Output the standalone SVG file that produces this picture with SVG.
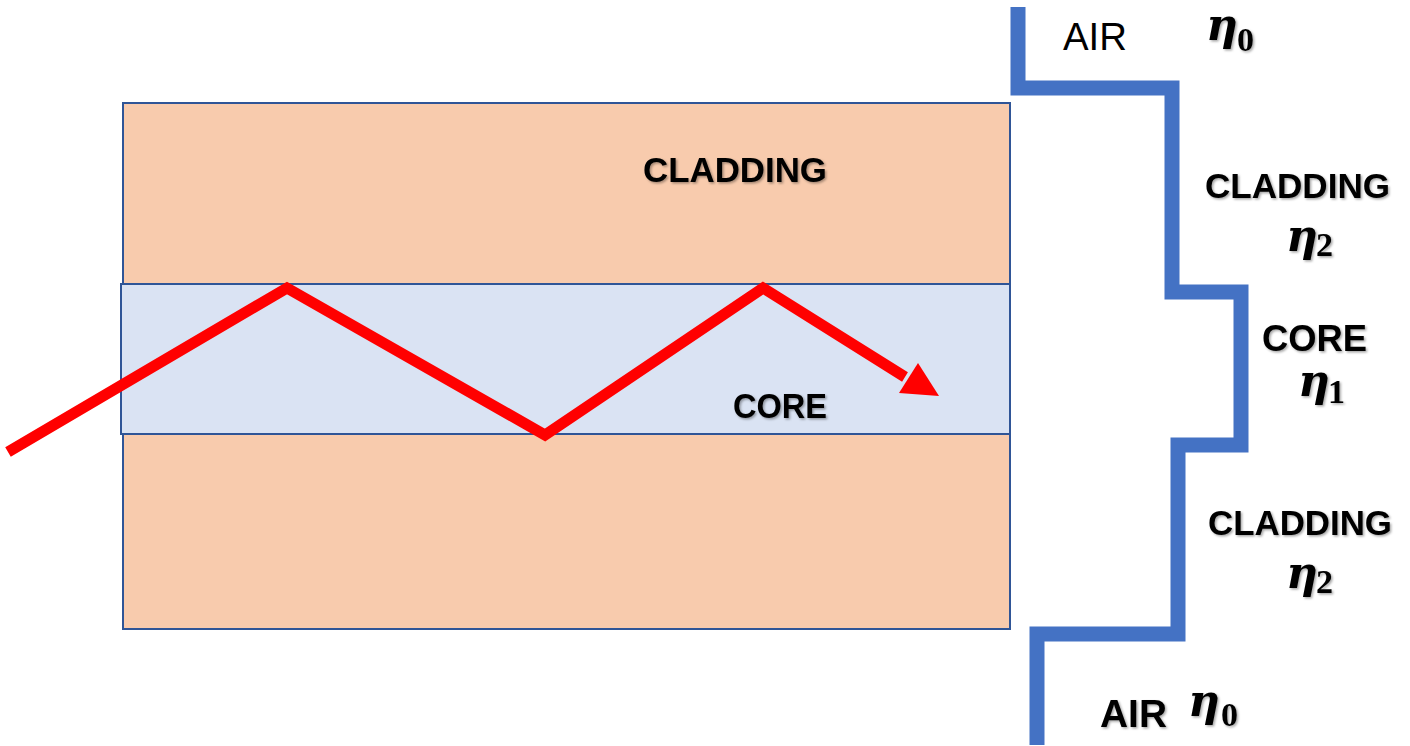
<svg xmlns="http://www.w3.org/2000/svg" width="1410" height="746" viewBox="0 0 1410 746">
<style>
.lbl{font-family:"Liberation Sans",Arial,sans-serif;font-weight:bold;fill:#000;filter:url(#sh)}
.reg{font-family:"Liberation Sans",Arial,sans-serif;fill:#000}
.eta{font-family:"DejaVu Serif","Liberation Serif",serif;font-weight:bold;fill:#000;filter:url(#sh)}
.eta .g{font-style:italic;font-size:44px}
.eta .s{font-family:"Liberation Serif",serif;font-size:34px}
</style>
<defs>
<filter id="sh" x="-10%" y="-20%" width="130%" height="160%">
<feDropShadow dx="1.5" dy="1.5" stdDeviation="1.2" flood-color="#000" flood-opacity="0.35"/>
</filter>
</defs>
<rect width="1410" height="746" fill="#fff"/>
<g id="cladding">
<rect x="123" y="103" width="887" height="526" fill="#F8CBAD" stroke="#2F5597" stroke-width="2"/>
<text class="lbl" x="643" y="182" font-size="35" textLength="184" lengthAdjust="spacingAndGlyphs">CLADDING</text>
</g>
<g id="core">
<rect x="121" y="284" width="889" height="150" fill="#DAE3F3" stroke="#2F5597" stroke-width="2"/>
<text class="lbl" x="733" y="418" font-size="35" textLength="94" lengthAdjust="spacingAndGlyphs">CORE</text>
</g>
<g id="ray">
<polyline points="8,452 287,288 545,435 763,288 905,377" fill="none" stroke="#FF0000" stroke-width="11" stroke-linejoin="miter"/>
<polygon points="939,396 899,393 918,363" fill="#FF0000"/>
</g>
<g id="profile">
<polyline points="1018,7 1018,88 1172,88 1172,292 1241,292 1241,445 1178,445 1178,634 1037,634 1037,745" fill="none" stroke="#4472C4" stroke-width="15" stroke-linejoin="miter"/>
</g>
<g id="labels">
<text class="reg" x="1063" y="50" font-size="38" textLength="64" lengthAdjust="spacingAndGlyphs">AIR</text>
<text class="eta" y="40"><tspan class="g" x="1206">η</tspan><tspan class="s" x="1237" y="51">0</tspan></text>
<text class="lbl" x="1205" y="198" font-size="35" textLength="185" lengthAdjust="spacingAndGlyphs">CLADDING</text>
<text class="eta" y="251"><tspan class="g" x="1286">η</tspan><tspan class="s" x="1316" y="256">2</tspan></text>
<text class="lbl" x="1262" y="351" font-size="36" textLength="105" lengthAdjust="spacingAndGlyphs">CORE</text>
<text class="eta" y="396"><tspan class="g" x="1298">η</tspan><tspan class="s" x="1328" y="403">1</tspan></text>
<text class="lbl" x="1208" y="535" font-size="35" textLength="184" lengthAdjust="spacingAndGlyphs">CLADDING</text>
<text class="eta" y="588"><tspan class="g" x="1286">η</tspan><tspan class="s" x="1316" y="593">2</tspan></text>
<text class="lbl" x="1100" y="727" font-size="38" textLength="67" lengthAdjust="spacingAndGlyphs">AIR</text>
<text class="eta" y="716"><tspan class="g" x="1188">η</tspan><tspan class="s" x="1221" y="726">0</tspan></text>
</g>
</svg>
